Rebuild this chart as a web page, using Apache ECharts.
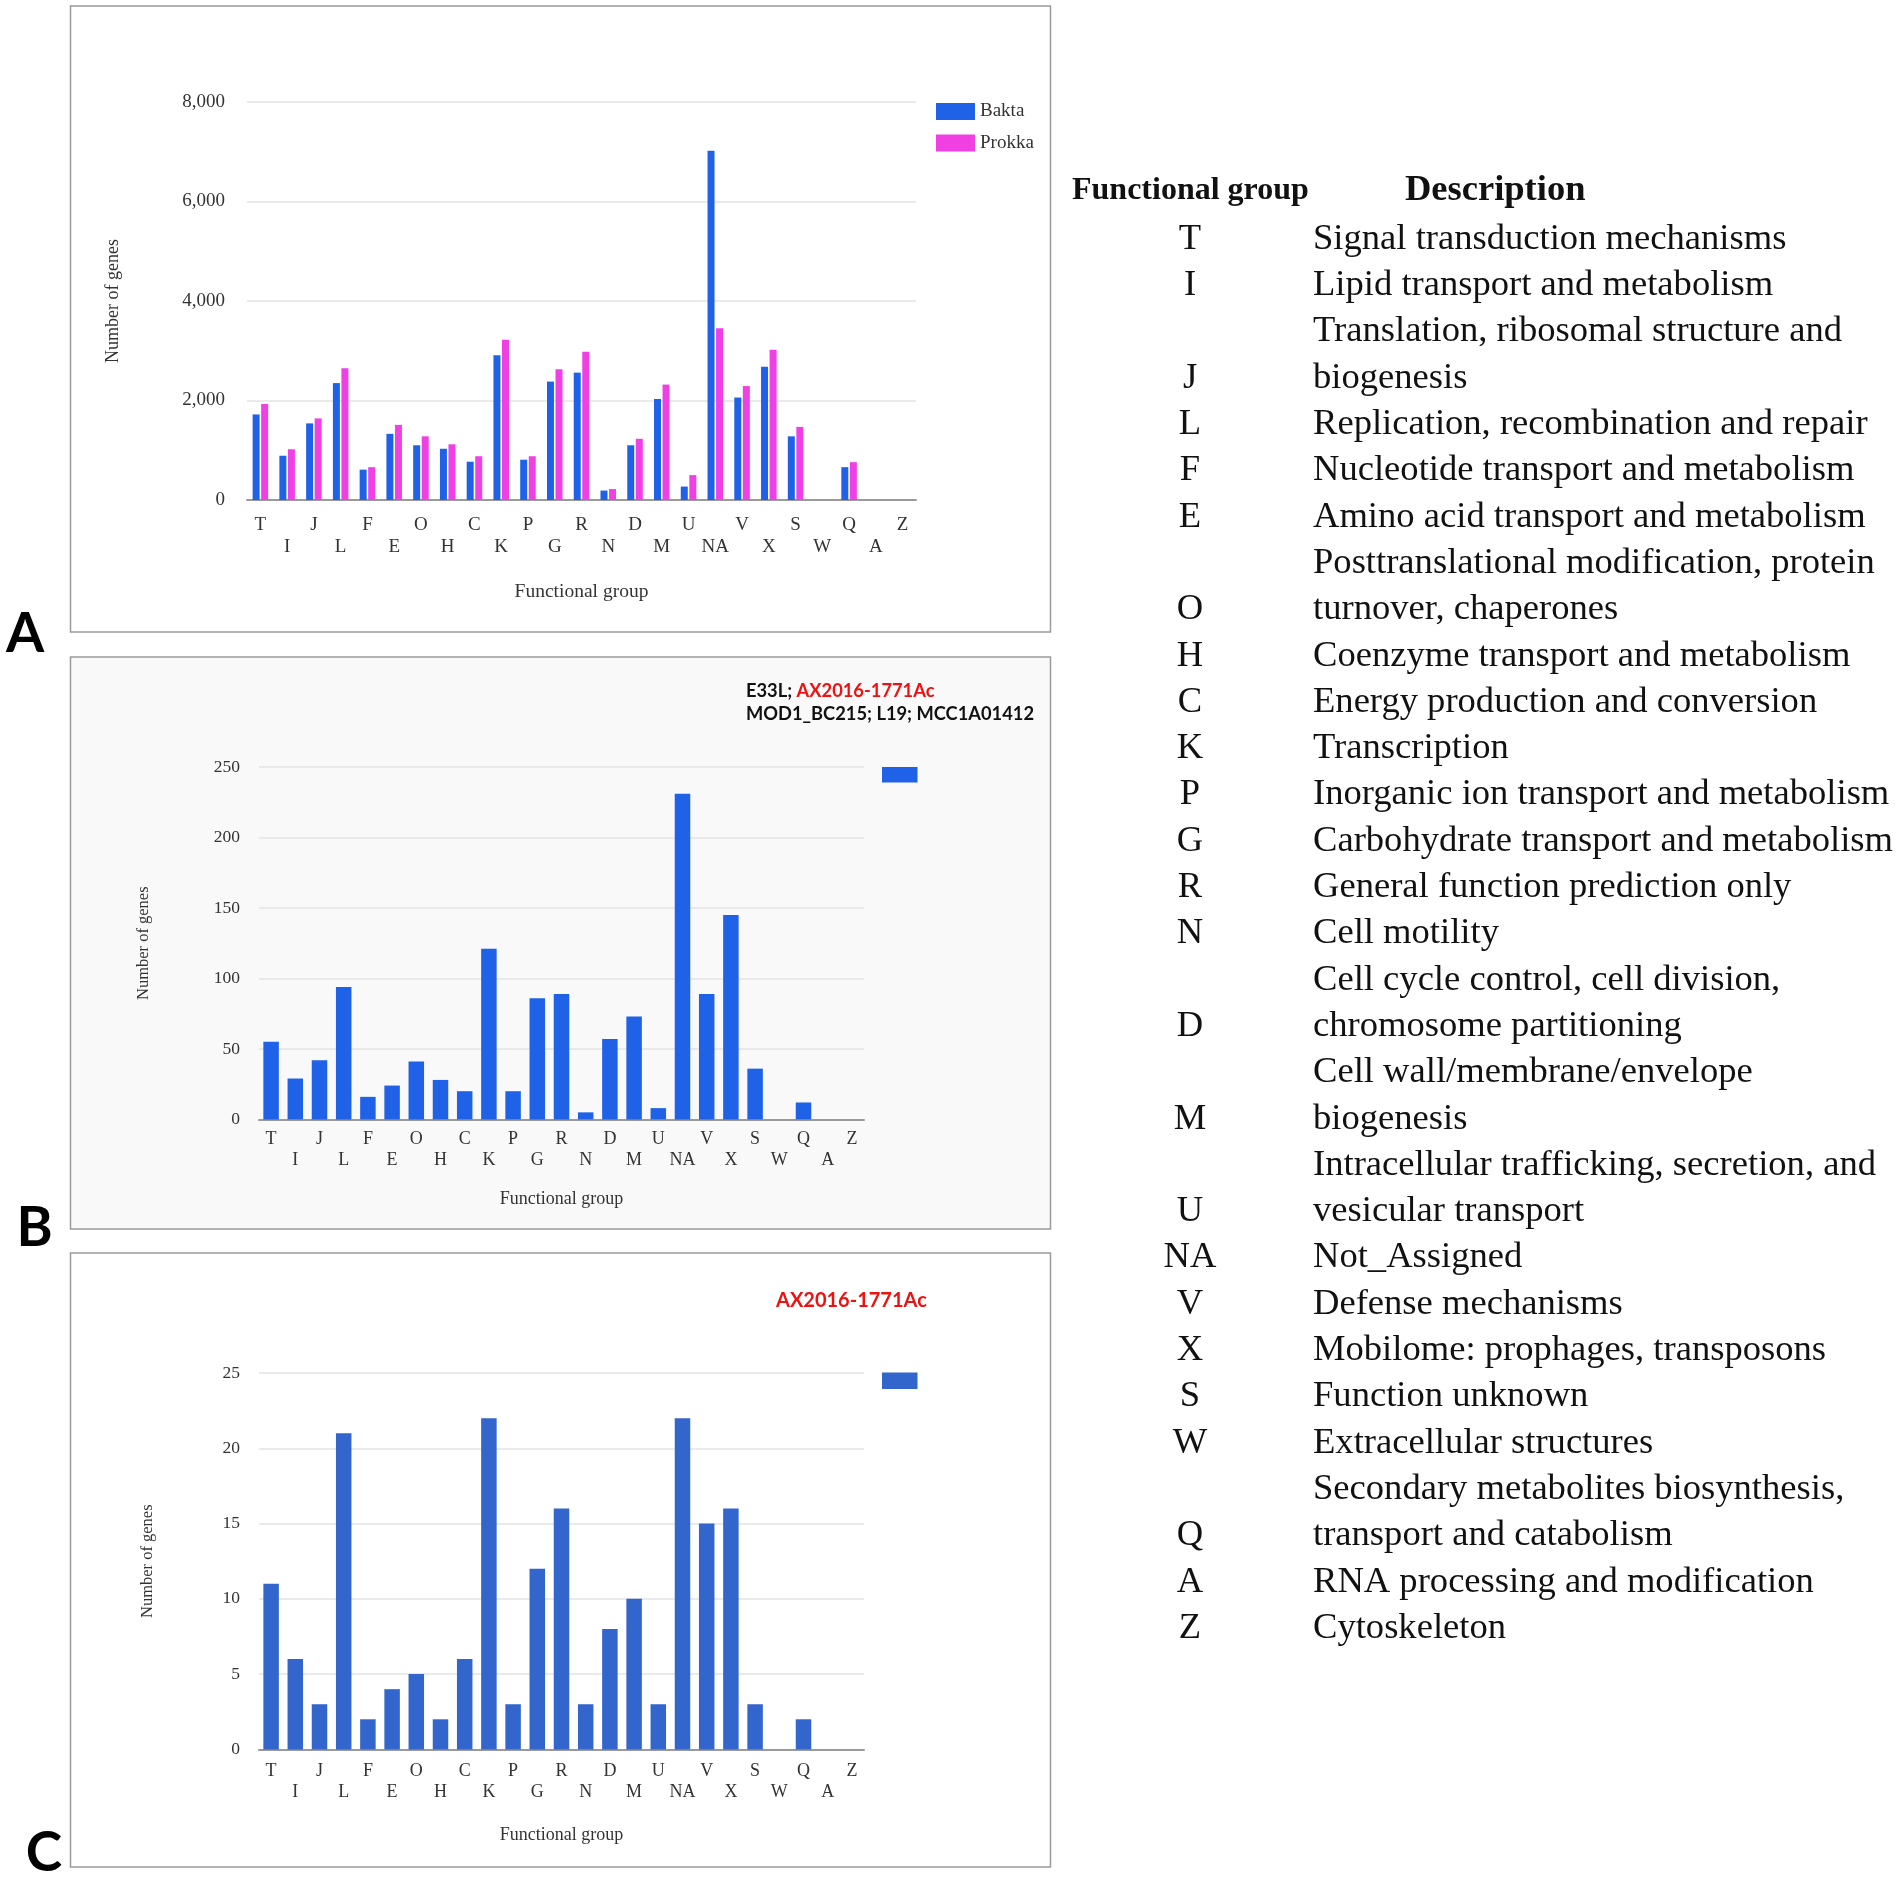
<!DOCTYPE html>
<html>
<head>
<meta charset="utf-8">
<script src="https://cdn.jsdelivr.net/npm/echarts@6/dist/echarts.min.js"></script>
<style>
html,body{margin:0;padding:0;background:#fff;}
#chart{width:1902px;height:1879px;}
</style>
</head>
<body>
<div id="chart"></div>
<script>
// ---------- data ----------
var categories = ['T','I','J','L','F','E','O','H','C','K','P','G','R','N','D','M','U','NA','V','X','S','W','Q','A','Z'];
var bakta  = [1720, 890,1540,2350, 610,1330,1100,1030, 770,2910, 810,2380,2560, 190,1100,2030, 270,7020,2060,2680,1280,0, 660,0,0];
var prokka = [1930,1020,1640,2650, 660,1510,1280,1120, 880,3220, 880,2630,2980, 220,1230,2320, 500,3450,2290,3020,1470,0, 760,0,0];
var panelB = [55,29,42,94,16,24,41,28,20,121,20,86,89,5,57,73,8,231,89,145,36,0,12,0,0];
var panelC = [11,6,3,21,2,4,5,2,6,22,3,12,16,3,8,10,3,22,15,16,3,0,2,0,0];
var yTicksA = {min:0, max:8000, interval:2000};
var yTicksB = {min:0, max:250, interval:50};
var yTicksC = {min:0, max:25, interval:5};
var descCodes = ['T','I','J','L','F','E','O','H','C','K','P','G','R','N','D','M','U','NA','V','X','S','W','Q','A','Z'];
var descLines = [
  ['Signal transduction mechanisms'],
  ['Lipid transport and metabolism'],
  ['Translation, ribosomal structure and','biogenesis'],
  ['Replication, recombination and repair'],
  ['Nucleotide transport and metabolism'],
  ['Amino acid transport and metabolism'],
  ['Posttranslational modification, protein','turnover, chaperones'],
  ['Coenzyme transport and metabolism'],
  ['Energy production and conversion'],
  ['Transcription'],
  ['Inorganic ion transport and metabolism'],
  ['Carbohydrate transport and metabolism'],
  ['General function prediction only'],
  ['Cell motility'],
  ['Cell cycle control, cell division,','chromosome partitioning'],
  ['Cell wall/membrane/envelope','biogenesis'],
  ['Intracellular trafficking, secretion, and','vesicular transport'],
  ['Not_Assigned'],
  ['Defense mechanisms'],
  ['Mobilome: prophages, transposons'],
  ['Function unknown'],
  ['Extracellular structures'],
  ['Secondary metabolites biosynthesis,','transport and catabolism'],
  ['RNA processing and modification'],
  ['Cytoskeleton']
];

// ---------- helpers ----------
var SERIF = '"Liberation Serif", "Times New Roman", serif';
function fmtComma(v){ return v.toLocaleString('en-US'); }
function xLab(v, i){ return (i % 2) ? '\n' + v : v; }

function xAxisCfg(gridIndex, fs, lh, margin, nameGap, nameFs){
  return {
    type:'category', gridIndex:gridIndex, data:categories,
    axisTick:{show:false},
    axisLine:{lineStyle:{color:'#9a9a9a', width:2}},
    axisLabel:{interval:0, formatter:xLab, fontFamily:SERIF, fontSize:fs, lineHeight:lh, color:'#333', margin:margin},
    name:'Functional group', nameLocation:'middle', nameGap:nameGap,
    nameTextStyle:{fontFamily:SERIF, fontSize:nameFs, color:'#333'}
  };
}
function yAxisCfg(gridIndex, t, fs, margin, nameGap, nameFs, fmt){
  return {
    type:'value', gridIndex:gridIndex, min:t.min, max:t.max, interval:t.interval,
    axisLine:{show:false}, axisTick:{show:false},
    splitLine:{lineStyle:{color:'#e3e3e3', width:1.5}},
    axisLabel:{fontFamily:SERIF, fontSize:fs, color:'#333', margin:margin, formatter:fmt},
    name:'Number of genes', nameLocation:'middle', nameGap:nameGap, nameRotate:90,
    nameTextStyle:{fontFamily:SERIF, fontSize:nameFs, color:'#333'}
  };
}

// ---------- graphics ----------
var graphics = [];
graphics.push({type:'rect', z:-10, shape:{x:70.5, y:6, width:980, height:626}, style:{fill:'#ffffff', stroke:'#9a9a9a', lineWidth:1.5}});
graphics.push({type:'rect', z:-10, shape:{x:70.5, y:657, width:980, height:572}, style:{fill:'#f9f9f9', stroke:'#9a9a9a', lineWidth:1.5}});
graphics.push({type:'rect', z:-10, shape:{x:70.5, y:1253, width:980, height:614}, style:{fill:'#ffffff', stroke:'#9a9a9a', lineWidth:1.5}});
function txt(x, y, s, font, fill, align){
  return {type:'text', x:x, y:y, style:{text:s, font:font, fill:fill, align:align||'left', verticalAlign:'middle', textAlign:align||'left', textVerticalAlign:'middle'}};
}
graphics.push(txt(25, 634, 'A', 'bold 55px Lato', '#000', 'center'));
graphics.push(txt(34.5, 1228, 'B', 'bold 55px Lato', '#000', 'center'));
graphics.push(txt(44, 1853.5, 'C', 'bold 55px Lato', '#000', 'center'));
graphics.push({type:'text', x:746, y:691, style:{
  text:'{k|E33L; }{r|AX2016-1771Ac}', verticalAlign:'middle', textVerticalAlign:'middle',
  rich:{k:{fill:'#111', font:'bold 18.3px Lato'}, r:{fill:'#ee1111', font:'bold 18.3px Lato'}}
}});
graphics.push(txt(746, 714, 'MOD1_BC215; L19; MCC1A01412', 'bold 18.3px Lato', '#111', 'left'));
graphics.push(txt(776, 1301, 'AX2016-1771Ac', 'bold 20px Lato', '#ee1111', 'left'));
// table
graphics.push(txt(1072, 190.5, 'Functional group', 'bold 32px ' + SERIF, '#111', 'left'));
graphics.push(txt(1405, 190.5, 'Description', 'bold 36.5px ' + SERIF, '#111', 'left'));
var lineIdx = 0;
for (var i = 0; i < descCodes.length; i++){
  var lines = descLines[i];
  for (var j = 0; j < lines.length; j++){
    var yy = 239.2 + lineIdx * 46.3;
    graphics.push(txt(1313, yy, lines[j], '36.6px ' + SERIF, '#111', 'left'));
    if (j === lines.length - 1) graphics.push(txt(1190, yy, descCodes[i], '36.6px ' + SERIF, '#111', 'center'));
    lineIdx++;
  }
}

// ---------- chart ----------
var chart = echarts.init(document.getElementById('chart'), null, {renderer:'canvas'});
chart.setOption({
  backgroundColor:'#ffffff',
  animation:false,
  graphic:{elements:graphics},
  grid:[
    {left:247, top:102, width:669, height:398},
    {left:259, top:767, width:605, height:352.4},
    {left:259, top:1373, width:605, height:376.4}
  ],
  legend:[
    {data:['Bakta','Prokka'], orient:'vertical', left:936, top:102, padding:0, icon:'rect', itemWidth:39, itemHeight:17, itemGap:12.5,
     textStyle:{fontFamily:SERIF, fontSize:19, color:'#333'}},
    {data:['Genes (B)'], orient:'vertical', left:882, top:767, padding:0, icon:'rect', itemWidth:35.5, itemHeight:15.5,
     formatter:function(){return '';}},
    {data:['Genes (C)'], orient:'vertical', left:882, top:1372.5, padding:0, icon:'rect', itemWidth:35.5, itemHeight:16.5,
     formatter:function(){return '';}}
  ],
  xAxis:[
    xAxisCfg(0, 19, 22, 14, 82, 19.5),
    xAxisCfg(1, 18, 21.5, 9, 71, 18),
    xAxisCfg(2, 18, 21.5, 11, 77, 18)
  ],
  yAxis:[
    yAxisCfg(0, yTicksA, 19, 22, 125, 18, fmtComma),
    yAxisCfg(1, yTicksB, 17.5, 19, 107, 16.5, null),
    yAxisCfg(2, yTicksC, 17.5, 19, 103, 16.5, null)
  ],
  series:[
    {name:'Bakta', type:'bar', xAxisIndex:0, yAxisIndex:0, data:bakta, barWidth:7, barGap:'22%', itemStyle:{color:'#1f62e8'}},
    {name:'Prokka', type:'bar', xAxisIndex:0, yAxisIndex:0, data:prokka, barWidth:7, barGap:'22%', itemStyle:{color:'#f040e4'}},
    {name:'Genes (B)', type:'bar', xAxisIndex:1, yAxisIndex:1, data:panelB, barWidth:15.5, itemStyle:{color:'#1f62e8'}},
    {name:'Genes (C)', type:'bar', xAxisIndex:2, yAxisIndex:2, data:panelC, barWidth:15.5, itemStyle:{color:'#3366cc'}}
  ]
});
</script>
</body>
</html>
